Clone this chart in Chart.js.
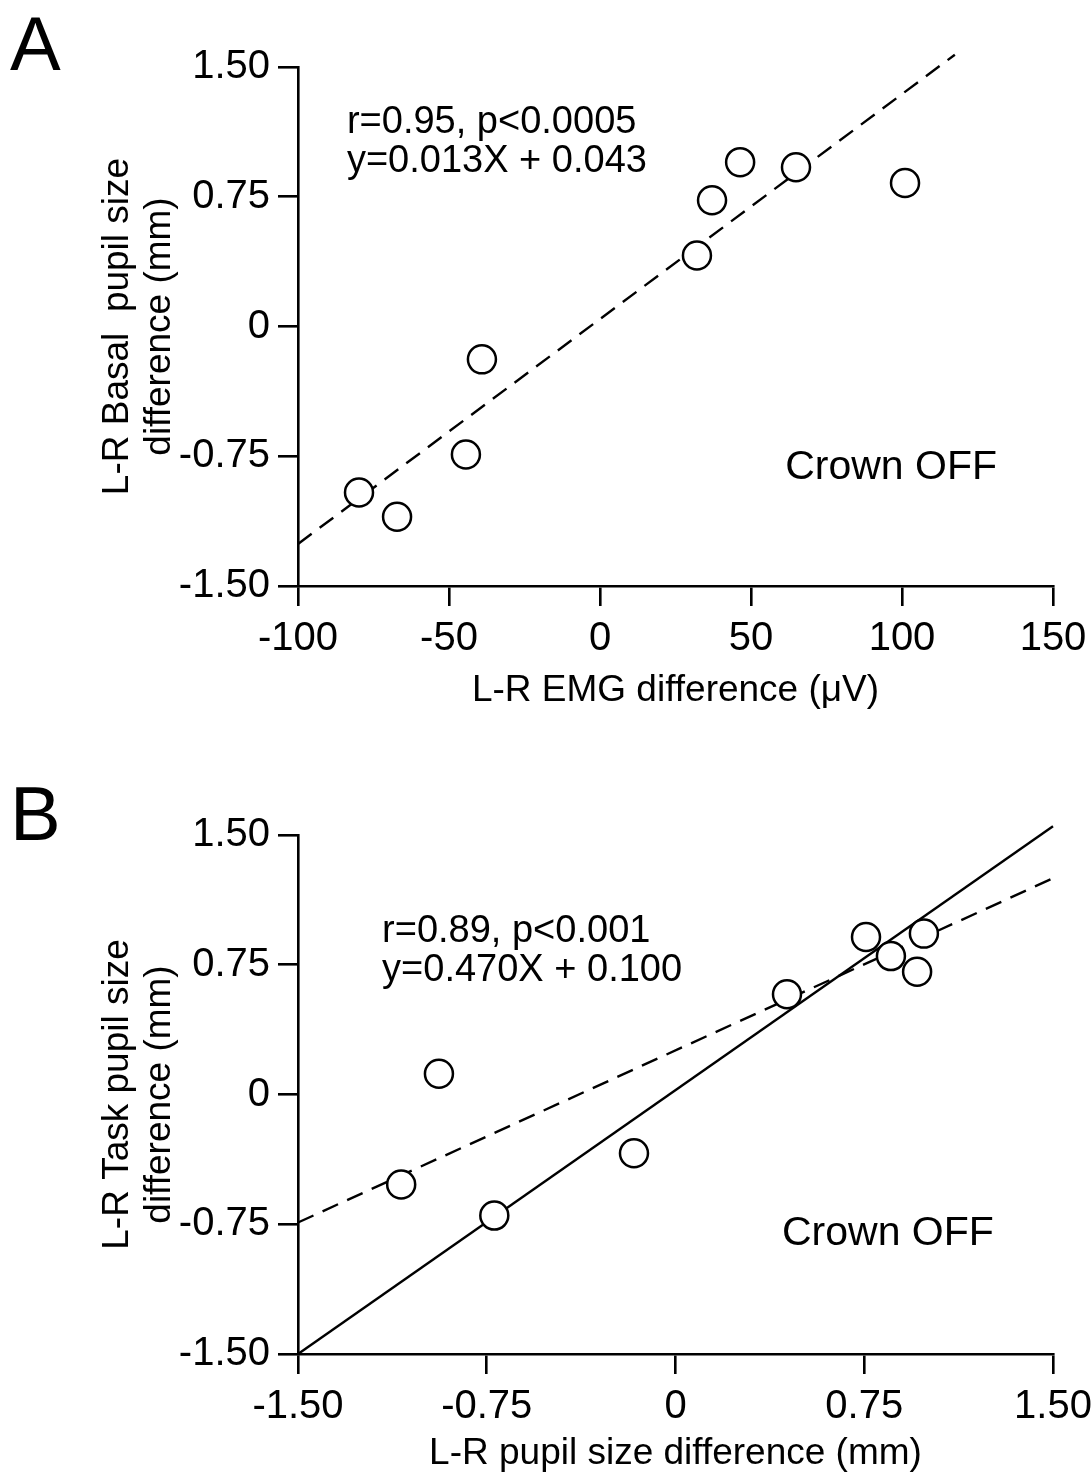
<!DOCTYPE html>
<html>
<head>
<meta charset="utf-8">
<script src="https://cdn.jsdelivr.net/npm/chart.js@4.4.1/dist/chart.umd.min.js"></script>
<style>
  html, body { margin: 0; padding: 0; background: #fff; }
  #wrap { position: relative; width: 1091px; height: 1477px; overflow: hidden; }
  canvas { position: absolute; left: 0; }
  #cA { top: 0; }
  #cB { top: 740px; }
</style>
</head>
<body>
<div id="wrap">
  <canvas id="cA" width="1091" height="740" style="width:1091px;height:740px"></canvas>
  <canvas id="cB" width="1091" height="737" style="width:1091px;height:737px"></canvas>
</div>
<script>
// ---------- Panel A data ----------
const emgDiffA   = [-79.8, -67.2, -44.4, -39.1, 32.1, 37.1, 46.4, 64.9, 101.0];
const basalDiffA = [-0.96, -1.10, -0.74, -0.19, 0.41, 0.73, 0.95, 0.92, 0.83];
const fitLineAx  = [-100, 117.5];
const fitLineAy  = [-1.257, 1.571];
const xTicksA    = [-100, -50, 0, 50, 100, 150];
const yTicks     = [-1.5, -0.75, 0, 0.75, 1.5];

// ---------- Panel B data ----------
const pupilDiffB = [-0.94, -1.09, -0.72, -0.165, 0.443, 0.757, 0.856, 0.987, 0.96];
const taskDiffB  = [0.12, -0.52, -0.70, -0.34, 0.58, 0.91, 0.80, 0.93, 0.71];
const fitLineBx  = [-1.5, 1.5];
const fitLineBy  = [-0.74, 1.25];
const unityLineBx = [-1.5, 1.5];
const unityLineBy = [-1.5, 1.55];
const xTicksB    = [-1.5, -0.75, 0, 0.75, 1.5];

const FONT = "'Liberation Sans', Arial, Helvetica, sans-serif";

const toXY = (xs, ys) => xs.map((x, i) => ({ x, y: ys[i] }));
const fmt2 = v => (Math.abs(v) < 1e-9 ? '0' : v.toFixed(2));

const textPlugin = {
  id: 'texts',
  afterDraw(chart, args, opts) {
    const ctx = chart.ctx;
    const xs = chart.scales.x, ys = chart.scales.y;
    ctx.save();
    ctx.fillStyle = '#000';
    ctx.textBaseline = 'alphabetic';
    ctx.textAlign = 'left';
    for (const t of (opts.items || [])) {
      ctx.font = t.size + 'px ' + FONT;
      const px = t.data ? xs.getPixelForValue(t.x) : t.x;
      const py = t.data ? ys.getPixelForValue(t.y) : t.y;
      ctx.fillText(t.text, px, py);
    }
    ctx.restore();
  }
};

function makeChart(canvasId, cfg) {
  const axisCommon = (extra) => Object.assign({
    type: 'linear',
    grid: { display: true, drawOnChartArea: false, drawTicks: true, tickLength: 20,
            color: '#000', lineWidth: 2.6, tickWidth: 2.6, tickColor: '#000' },
    border: { display: true, color: '#000', width: 2.6 },
  }, extra);

  return new Chart(document.getElementById(canvasId), {
    type: 'scatter',
    data: { datasets: cfg.datasets },
    plugins: [textPlugin],
    options: {
      responsive: false,
      animation: false,
      devicePixelRatio: 1,
      layout: { padding: { left: 0, top: cfg.top, right: 1091 - 1053, bottom: 0 } },
      plugins: {
        legend: { display: false },
        tooltip: { enabled: false },
        texts: { items: cfg.texts }
      },
      scales: {
        x: axisCommon({
          min: cfg.xMin, max: cfg.xMax,
          afterBuildTicks: s => { s.ticks = cfg.xTicks.map(v => ({ value: v })); },
          ticks: { color: '#000', padding: 9, maxRotation: 0, autoSkip: false,
                   font: { family: FONT, size: 40 }, callback: cfg.xFmt },
          title: { display: true, text: cfg.xTitle, color: '#000',
                   font: { family: FONT, size: 37, lineHeight: 1.2 },
                   padding: { top: 0, bottom: cfg.xTitlePadBottom } },
          afterFit: s => { s.height = cfg.xAxisHeight; s.paddingLeft = 0; s.paddingRight = 0; }
        }),
        y: axisCommon({
          min: -1.5, max: 1.5,
          afterBuildTicks: s => { s.ticks = yTicks.map(v => ({ value: v })); },
          ticks: { color: '#000', padding: 8, autoSkip: false,
                   font: { family: FONT, size: 40 }, callback: fmt2 },
          title: { display: true, text: cfg.yTitle, color: '#000',
                   font: { family: FONT, size: 37, lineHeight: 42 / 37 },
                   padding: { top: 97, bottom: 0 } },
          afterFit: s => { s.width = 298; s.paddingTop = 0; s.paddingBottom = 0; }
        })
      }
    }
  });
}

const pointStyle = {
  pointRadius: 14, pointHoverRadius: 14, pointBorderWidth: 2.5,
  pointBackgroundColor: '#fff', pointBorderColor: '#000', showLine: false, order: 0
};

makeChart('cA', {
  top: 67, xAxisHeight: 740 - 586, xTitlePadBottom: 27,
  xMin: -100, xMax: 150, xTicks: xTicksA, xFmt: v => String(v),
  xTitle: 'L-R EMG difference (\u03BCV)',
  yTitle: ['L-R Basal  pupil size', 'difference (mm)'],
  datasets: [
    Object.assign({ label: 'Crown OFF', data: toXY(emgDiffA, basalDiffA) }, pointStyle),
    { label: 'fit', data: toXY(fitLineAx, fitLineAy), showLine: true, pointRadius: 0,
      borderColor: '#000', borderWidth: 2.4, borderDash: [17, 10], clip: false, order: 1 }
  ],
  texts: [
    { text: 'A', x: 10, y: 70, size: 76 },
    { text: 'r=0.95, p<0.0005', data: true, x: -83.8, y: 1.119, size: 38 },
    { text: 'y=0.013X + 0.043', data: true, x: -83.8, y: 0.894, size: 38 },
    { text: 'Crown OFF', data: true, x: 61.3, y: -0.883, size: 41 }
  ]
});

makeChart('cB', {
  top: 95, xAxisHeight: 737 - 614, xTitlePadBottom: 1,
  xMin: -1.5, xMax: 1.5, xTicks: xTicksB, xFmt: fmt2,
  xTitle: 'L-R pupil size difference (mm)',
  yTitle: ['L-R Task pupil size', 'difference (mm)'],
  datasets: [
    Object.assign({ label: 'Crown OFF', data: toXY(pupilDiffB, taskDiffB) }, pointStyle),
    { label: 'fit', data: toXY(fitLineBx, fitLineBy), showLine: true, pointRadius: 0,
      borderColor: '#000', borderWidth: 2.4, borderDash: [17, 10], clip: false, order: 1 },
    { label: 'unity', data: toXY(unityLineBx, unityLineBy), showLine: true, pointRadius: 0,
      borderColor: '#000', borderWidth: 2.4, clip: false, order: 1 }
  ],
  texts: [
    { text: 'B', x: 10, y: 100, size: 76 },
    { text: 'r=0.89, p<0.001', data: true, x: -1.166, y: 0.882, size: 38 },
    { text: 'y=0.470X + 0.100', data: true, x: -1.166, y: 0.656, size: 38 },
    { text: 'Crown OFF', data: true, x: 0.423, y: -0.870, size: 41 }
  ]
});
</script>
</body>
</html>
